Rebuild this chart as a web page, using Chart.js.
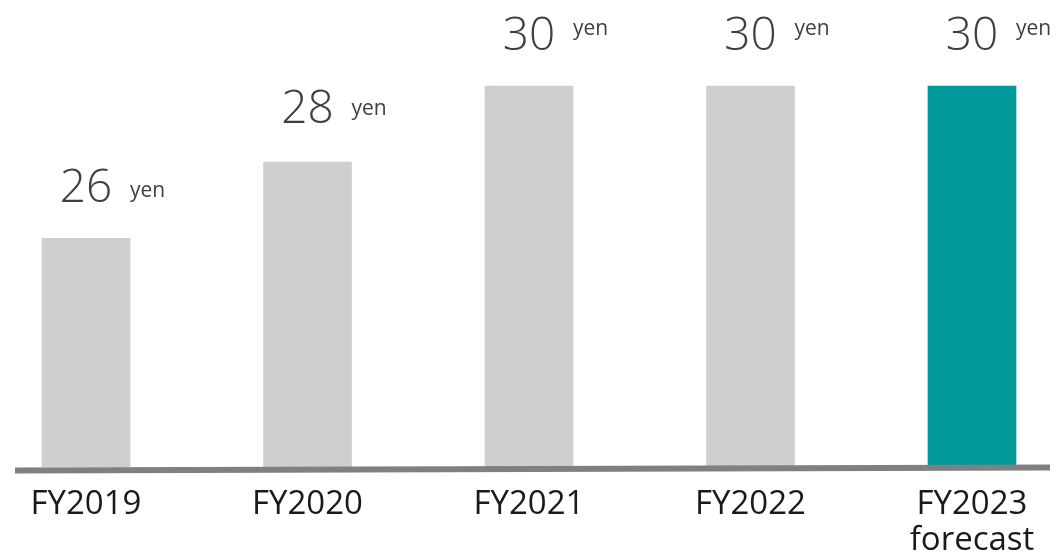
<!DOCTYPE html>
<html>
<head>
<meta charset="utf-8">
<script src="https://cdn.jsdelivr.net/npm/chart.js@4/dist/chart.umd.min.js"></script>
<style>
  html, body { margin: 0; padding: 0; background: #fff; }
  #wrap { width: 1061px; height: 555px; }
</style>
</head>
<body>
<div id="wrap"><canvas id="dividendChart"></canvas></div>
<script>
// Data
const fiscalYears = ['FY2019', 'FY2020', 'FY2021', 'FY2022', ['FY2023', 'forecast']];
const dividendPerShare = [26, 28, 30, 30, 30];
const valueUnit = 'yen';
const barColors = ['#d0cecf', '#d0cecf', '#d0cecf', '#d0cecf', '#009a9a'];

const FONT = '"Open Sans", "Liberation Sans", sans-serif';

// Draws the value + "yen" over each bar, and the slanted gray base line
const barLabels = {
    id: 'barLabels',
    afterDatasetsDraw(chart) {
        const ctx = chart.ctx;
        const meta = chart.getDatasetMeta(0);
        const area = chart.chartArea;
        // the labels in the original are not quite aligned the same way
        const numGap = [36, 39, 36, 36, 36];
        const unitRise = [5, 8, 15, 15, 15];

        // base line
        ctx.save();
        ctx.strokeStyle = '#808080';
        ctx.lineWidth = 6;
        ctx.beginPath();
        ctx.moveTo(15, area.bottom + 3.5);
        ctx.lineTo(1050, area.bottom + 0.5);
        ctx.stroke();
        ctx.restore();

        ctx.save();
        ctx.fillStyle = '#404040';
        ctx.textBaseline = 'alphabetic';
        meta.data.forEach((bar, i) => {
            const base = bar.y - numGap[i];
            ctx.font = '300 46px ' + FONT;
            ctx.textAlign = 'center';
            ctx.fillText(String(dividendPerShare[i]), bar.x, base);
            ctx.font = '21px ' + FONT;
            ctx.textAlign = 'left';
            ctx.fillText(valueUnit, bar.x + 44, base - unitRise[i]);
        });
        ctx.restore();
    }
};

const ctx = document.getElementById('dividendChart').getContext('2d');
const dividendChart = new Chart(ctx, {
    type: 'bar',
    data: {
        labels: fiscalYears,
        datasets: [{
            data: dividendPerShare,
            backgroundColor: barColors,
            borderWidth: 0,
            barThickness: 88,
            clip: { left: 60, right: 60, top: 10, bottom: 0 }
        }]
    },
    options: {
        responsive: true,
        maintainAspectRatio: false,
        animation: false,
        events: [],
        layout: {
            padding: { left: 86, right: 89, top: 86, bottom: 0 }
        },
        plugins: {
            legend: { display: false },
            tooltip: { enabled: false }
        },
        scales: {
            x: {
                offset: false,
                grid: { display: false, drawTicks: false },
                border: { display: false },
                afterFit: (scale) => { scale.height = 88; },
                ticks: {
                    color: '#1a1a1a',
                    padding: 20,
                    maxRotation: 0,
                    autoSkip: false,
                    font: { family: FONT, size: 33, lineHeight: 1.08 }
                }
            },
            y: {
                display: false,
                min: 20,
                max: 30
            }
        }
    },
    plugins: [barLabels]
});
</script>
</body>
</html>
